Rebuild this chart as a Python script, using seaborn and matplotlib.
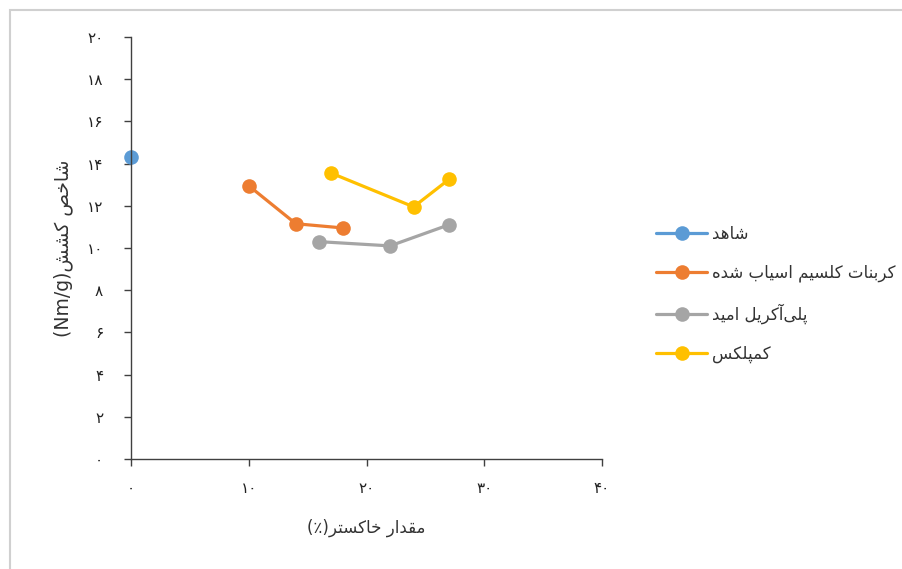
import matplotlib
matplotlib.use("Agg")
import matplotlib.pyplot as plt
import seaborn as sns
import pandas as pd
from matplotlib.ticker import FuncFormatter, MultipleLocator
from matplotlib.patches import Rectangle

# ---------------- data ----------------
series_names = ["شاهد", "کربنات کلسیم اسیاب شده", "پلی‌آکریل امید", "کمپلکس"]
control_x = [0]
control_y = [14.3]
caco3_x = [10, 14, 18]
caco3_y = [12.95, 11.15, 10.95]
pam_x = [16, 22, 27]
pam_y = [10.3, 10.1, 11.1]
complex_x = [17, 24, 27]
complex_y = [13.55, 11.95, 13.25]
colors = ["#5B9BD5", "#ED7D31", "#A5A5A5", "#FFC000"]
x_label = "مقدار خاکستر"
x_label_suffix = "(٪)"
y_label = "شاخص کشش"
y_label_suffix = "(Nm/g)"

# ------------- simple Persian shaping (presentation forms, visual order) -------------
FORMS = {  # isolated, final, initial, medial
    "ا": ("\uFE8D", "\uFE8E", None, None),
    "آ": ("\uFE81", "\uFE82", None, None),
    "د": ("\uFEA9", "\uFEAA", None, None),
    "ر": ("\uFEAD", "\uFEAE", None, None),
    "ب": ("\uFE8F", "\uFE90", "\uFE91", "\uFE92"),
    "پ": ("\uFB56", "\uFB57", "\uFB58", "\uFB59"),
    "ت": ("\uFE95", "\uFE96", "\uFE97", "\uFE98"),
    "خ": ("\uFEA5", "\uFEA6", "\uFEA7", "\uFEA8"),
    "س": ("\uFEB1", "\uFEB2", "\uFEB3", "\uFEB4"),
    "ش": ("\uFEB5", "\uFEB6", "\uFEB7", "\uFEB8"),
    "ص": ("\uFEB9", "\uFEBA", "\uFEBB", "\uFEBC"),
    "ق": ("\uFED5", "\uFED6", "\uFED7", "\uFED8"),
    "ک": ("\uFB8E", "\uFB8F", "\uFB90", "\uFB91"),
    "ل": ("\uFEDD", "\uFEDE", "\uFEDF", "\uFEE0"),
    "م": ("\uFEE1", "\uFEE2", "\uFEE3", "\uFEE4"),
    "ن": ("\uFEE5", "\uFEE6", "\uFEE7", "\uFEE8"),
    "ه": ("\uFEE9", "\uFEEA", "\uFEEB", "\uFEEC"),
    "ی": ("\uFBFC", "\uFBFD", "\uFBFE", "\uFBFF"),
}


def dual(c):
    return c in FORMS and FORMS[c][2] is not None


def fa(text, ltr_prefix=""):
    out = []
    n = len(text)
    for i, c in enumerate(text):
        if c not in FORMS:
            if c != "\u200c":
                out.append(c)
            continue
        prev = text[i - 1] if i > 0 else ""
        nxt = text[i + 1] if i + 1 < n else ""
        jp = dual(prev)
        jn = dual(c) and nxt in FORMS
        iso, fin, ini, med = FORMS[c]
        if jp and jn:
            g = med
        elif jp:
            g = fin
        elif jn:
            g = ini
        else:
            g = iso
        out.append(g)
    return ltr_prefix + "".join(reversed(out))


PD = str.maketrans("0123456789", "۰۱۲۳۴۵۶۷۸۹")


def fa_num(v, pos=None):
    return str(int(round(v))).translate(PD)


# ---------------- build frame ----------------
frames = []
for name, xs, ys in [(series_names[0], control_x, control_y),
                     (series_names[1], caco3_x, caco3_y),
                     (series_names[2], pam_x, pam_y),
                     (series_names[3], complex_x, complex_y)]:
    frames.append(pd.DataFrame({"x": xs, "y": ys, "series": name}))
df = pd.concat(frames, ignore_index=True)

sns.set_theme(style="white")
plt.rcParams["font.family"] = ["DejaVu Sans"]

fig = plt.figure(figsize=(9.02, 5.69), dpi=100)
ax = fig.add_axes([131 / 902, 1 - 459 / 569, (602 - 131) / 902, (459 - 37) / 569])

sns.lineplot(data=df, x="x", y="y", hue="series", hue_order=series_names,
             palette=colors, marker="o", markersize=10.5, markeredgewidth=0,
             linewidth=2.3, sort=False, ax=ax, legend=True)

ax.set_xlim(0, 40)
ax.set_ylim(0, 20)
ax.xaxis.set_major_locator(MultipleLocator(10))
ax.yaxis.set_major_locator(MultipleLocator(2))
ax.xaxis.set_major_formatter(FuncFormatter(fa_num))
ax.yaxis.set_major_formatter(FuncFormatter(fa_num))
for a in ax.lines:
    a.set_clip_on(False)

for s in ["top", "right"]:
    ax.spines[s].set_visible(False)
for s in ["left", "bottom"]:
    ax.spines[s].set_color("#404040")
    ax.spines[s].set_linewidth(1.0)
ax.tick_params(axis="both", which="major", direction="out", length=5, width=1,
               color="#404040", labelsize=11, labelcolor="#222222", bottom=True, left=True)
ax.tick_params(axis="x", pad=11)
ax.tick_params(axis="y", pad=15)

ax.set_xlabel(fa(x_label, x_label_suffix), fontsize=12, color="#333333", labelpad=16)
ax.set_ylabel(fa(y_label, y_label_suffix), fontsize=13.5, color="#333333", labelpad=10)

handles, labels = ax.get_legend_handles_labels()
ax.get_legend().remove()
leg = fig.legend(handles, [fa(l) for l in labels], loc="center left",
                 bbox_to_anchor=(644 / 902, 1 - 294 / 569), frameon=False,
                 fontsize=12, handlelength=3.1, handletextpad=0.3, labelspacing=1.25,
                 borderpad=0.2)
for t in leg.get_texts():
    t.set_color("#333333")

fig.patches.append(Rectangle((10 / 902, -0.1), 1.2, 1 - 10 / 569 + 0.1,
                             transform=fig.transFigure, fill=False,
                             edgecolor="#D0D0D0", linewidth=1.5, zorder=0))

fig.savefig("out.png", dpi=100)
